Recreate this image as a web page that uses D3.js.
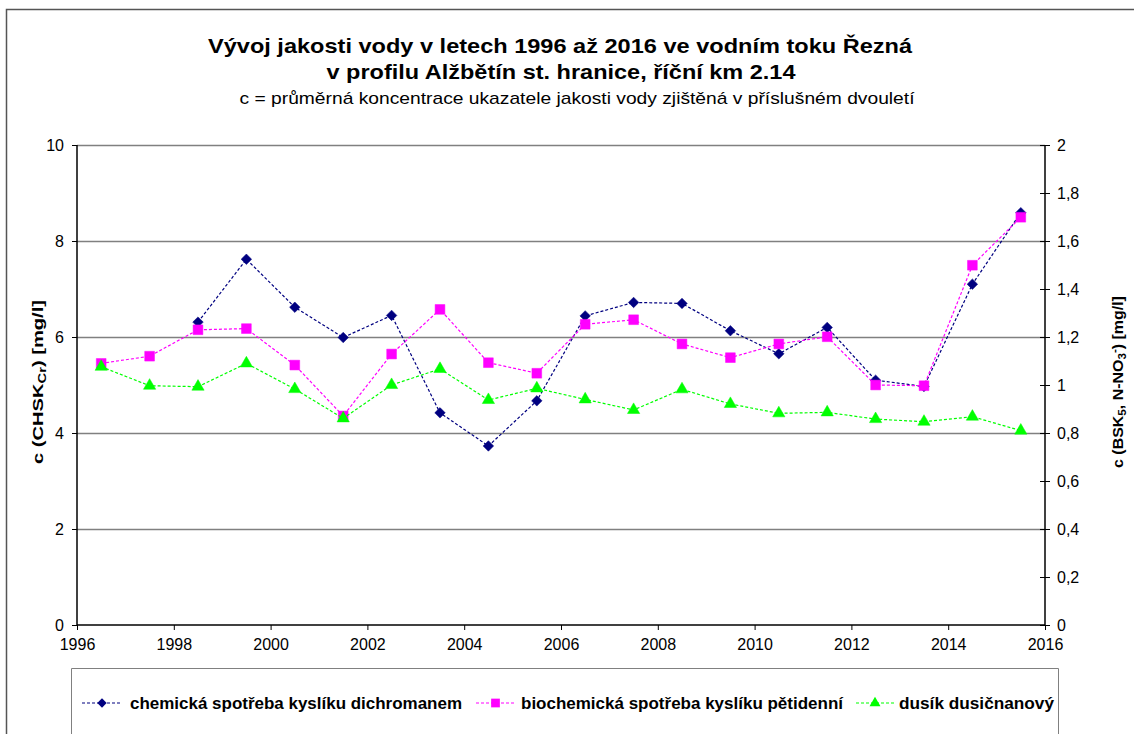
<!DOCTYPE html>
<html>
<head>
<meta charset="utf-8">
<script src="https://cdn.jsdelivr.net/npm/d3@7/dist/d3.min.js"></script>
<style>
  body { margin: 0; background: #fff; }
  svg { display: block; font-family: "Liberation Sans", Arial, sans-serif; }
</style>
</head>
<body>
<svg id="chart" width="1134" height="734"></svg>
<script>
// ---- data ----
const years = [1996.5, 1997.5, 1998.5, 1999.5, 2000.5, 2001.5, 2002.5, 2003.5, 2004.5, 2005.5,
               2006.5, 2007.5, 2008.5, 2009.5, 2010.5, 2011.5, 2012.5, 2013.5, 2014.5, 2015.5];
const chsk = [null, null, 6.31, 7.62, 6.62, 5.99, 6.45, 4.42, 3.73, 4.67,
              6.44, 6.72, 6.70, 6.13, 5.65, 6.20, 5.10, 4.97, 7.10, 8.59];
const bsk = [1.09, 1.12, 1.23, 1.235, 1.083, 0.871, 1.129, 1.315, 1.093, 1.049,
             1.253, 1.272, 1.171, 1.114, 1.171, 1.201, 1.0, 0.997, 1.499, 1.699];
const nno3 = [1.076, 0.997, 0.993, 1.09, 0.983, 0.861, 1.0, 1.067, 0.9375, 0.986,
              0.94, 0.896, 0.982, 0.921, 0.882, 0.886, 0.858, 0.847, 0.868, 0.81];
const xTicks = [1996, 1998, 2000, 2002, 2004, 2006, 2008, 2010, 2012, 2014, 2016];
const yLeftTicks = [0, 2, 4, 6, 8, 10];
const yRightTicks = [0, 0.2, 0.4, 0.6, 0.8, 1, 1.2, 1.4, 1.6, 1.8, 2];
const seriesNames = ["chemická spotřeba kyslíku dichromanem",
                     "biochemická spotřeba kyslíku pětidenní",
                     "dusík dusičnanový"];
const titleLines = ["Vývoj jakosti vody v letech 1996 až 2016 ve vodním toku Řezná",
                    "v profilu Alžbětín st. hranice, říční km 2.14"];
const subtitle = "c = průměrná koncentrace ukazatele jakosti vody zjištěná v příslušném dvouletí";

// ---- layout ----
const svg = d3.select("#chart");
const L = 77, R = 1045, T = 145, B = 625;
const x = d3.scaleLinear().domain([1996, 2016]).range([L, R]);
const yL = d3.scaleLinear().domain([0, 10]).range([B, T]);
const yR = d3.scaleLinear().domain([0, 2]).range([B, T]);

// outer frame
svg.append("path").attr("d", `M6.5,734 V9.5 H1134`).attr("fill", "none")
  .attr("stroke", "#555").attr("stroke-width", 1.5);

// titles
const tg = svg.append("g").attr("text-anchor", "middle").attr("fill", "#000");
tg.append("text").attr("x", 560).attr("y", 53).attr("font-size", 21).attr("font-weight", "bold")
  .attr("textLength", 704).attr("lengthAdjust", "spacingAndGlyphs").text(titleLines[0]);
tg.append("text").attr("x", 561).attr("y", 79).attr("font-size", 21).attr("font-weight", "bold")
  .attr("textLength", 469).attr("lengthAdjust", "spacingAndGlyphs").text(titleLines[1]);
tg.append("text").attr("x", 577).attr("y", 104).attr("font-size", 17)
  .attr("textLength", 675).attr("lengthAdjust", "spacingAndGlyphs").text(subtitle);

// gridlines
svg.append("g").selectAll("line").data(yLeftTicks.filter(d => d > 0)).join("line")
  .attr("x1", L).attr("x2", R).attr("y1", d => Math.round(yL(d)) + 0.5).attr("y2", d => Math.round(yL(d)) + 0.5)
  .attr("stroke", "#808080").attr("stroke-width", 1.3);

// axes
const axL = svg.append("g").attr("transform", `translate(${L},0)`)
  .call(d3.axisLeft(yL).tickValues(yLeftTicks).tickSize(5).tickPadding(8).tickFormat(d3.format("d")));
const axR = svg.append("g").attr("transform", `translate(${R},0)`)
  .call(d3.axisRight(yR).tickValues(yRightTicks).tickSize(5).tickPadding(7)
    .tickFormat(d => d3.format("")(d).replace(".", ",")));
axR.selectAll(".tick line").attr("x1", -5);
const axB = svg.append("g").attr("transform", `translate(0,${B})`)
  .call(d3.axisBottom(x).tickValues(xTicks).tickSize(5).tickPadding(9).tickFormat(d3.format("d")));
[axL, axR, axB].forEach(a => {
  a.attr("font-size", 16).attr("font-family", "Liberation Sans, Arial, sans-serif");
  a.select(".domain").attr("stroke", "#000").attr("stroke-width", 1.5);
  a.selectAll(".tick line").attr("stroke", "#000");
  a.selectAll(".tick text").attr("fill", "#000");
});
axL.select(".domain").attr("d", `M0,${B}V${T}`);
axR.select(".domain").attr("d", `M0,${B}V${T}`);
axB.select(".domain").attr("d", `M${L},0H${R}`);

// axis titles (stretched along their direction to match the reference lengths)
function fitTitle(t, cx, cy, target) {
  const len = t.node().getComputedTextLength();
  t.attr("transform", `translate(${cx},${cy}) rotate(-90) scale(${target / len},1)`);
}
const lt = svg.append("text").attr("text-anchor", "middle").attr("font-size", 15).attr("font-weight", "bold");
lt.append("tspan").text("c (CHSK");
lt.append("tspan").attr("font-size", 11).attr("dy", 3).text("Cr");
lt.append("tspan").attr("dy", -3).text(") [mg/l]");
fitTitle(lt, 43, 382, 164);

const rt = svg.append("text").attr("text-anchor", "middle").attr("font-size", 15).attr("font-weight", "bold");
rt.append("tspan").text("c (BSK");
rt.append("tspan").attr("font-size", 11).attr("dy", 3).text("5");
rt.append("tspan").attr("dy", -3).text(", N-NO");
rt.append("tspan").attr("font-size", 11).attr("dy", 3).text("3");
rt.append("tspan").attr("font-size", 11).attr("dy", -8).text("-");
rt.append("tspan").attr("dy", 5).text(") [mg/l]");
fitTitle(rt, 1123, 382, 172);

// series
const series = [
  { name: seriesNames[0], vals: chsk, y: yL, color: "#000080", sym: d3.symbolSquare, size: 55, rot: 45 },
  { name: seriesNames[1], vals: bsk, y: yR, color: "#FF00FF", sym: d3.symbolSquare, size: 95, rot: 0 },
  { name: seriesNames[2], vals: nno3, y: yR, color: "#00FF00", sym: d3.symbolTriangle, size: 65, rot: 0 }
];

series.forEach(s => {
  const pts = years.map((yr, i) => ({ yr, v: s.vals[i] })).filter(d => d.v != null);
  const line = d3.line().x(d => x(d.yr)).y(d => s.y(d.v));
  const g = svg.append("g");
  g.append("path").attr("d", line(pts)).attr("fill", "none").attr("stroke", s.color)
    .attr("stroke-width", 1.2).attr("stroke-dasharray", "3,2");
  g.selectAll("path.m").data(pts).join("path").attr("class", "m")
    .attr("transform", d => `translate(${x(d.yr)},${s.y(d.v)}) rotate(${s.rot})`)
    .attr("d", d3.symbol().type(s.sym).size(s.size)).attr("fill", s.color).attr("stroke", s.color).attr("stroke-width", 0.5);
});

// legend
svg.append("path").attr("d", "M71.5,734 V668.5 H1058.5 V734").attr("fill", "none")
  .attr("stroke", "#808080").attr("stroke-width", 1);
const legX = [82, 476, 856];
const legLineW = [40, 39, 38];
const legTextX = [130, 521, 899];
const legTextW = [332, 322, 155];
series.forEach((s, i) => {
  const g = svg.append("g").attr("transform", `translate(0,703)`);
  g.append("line").attr("x1", legX[i]).attr("x2", legX[i] + legLineW[i]).attr("y1", 0).attr("y2", 0)
    .attr("stroke", s.color).attr("stroke-width", 1.2).attr("stroke-dasharray", "3,2");
  g.append("path").attr("transform", `translate(${legX[i] + legLineW[i] / 2},0) rotate(${s.rot})`)
    .attr("d", d3.symbol().type(s.sym).size(s.size * 0.8)).attr("fill", s.color);
  g.append("text").attr("x", legTextX[i]).attr("y", 6).attr("font-size", 16).attr("font-weight", "bold")
    .attr("textLength", legTextW[i]).attr("lengthAdjust", "spacingAndGlyphs").text(s.name);
});
</script>
</body>
</html>
